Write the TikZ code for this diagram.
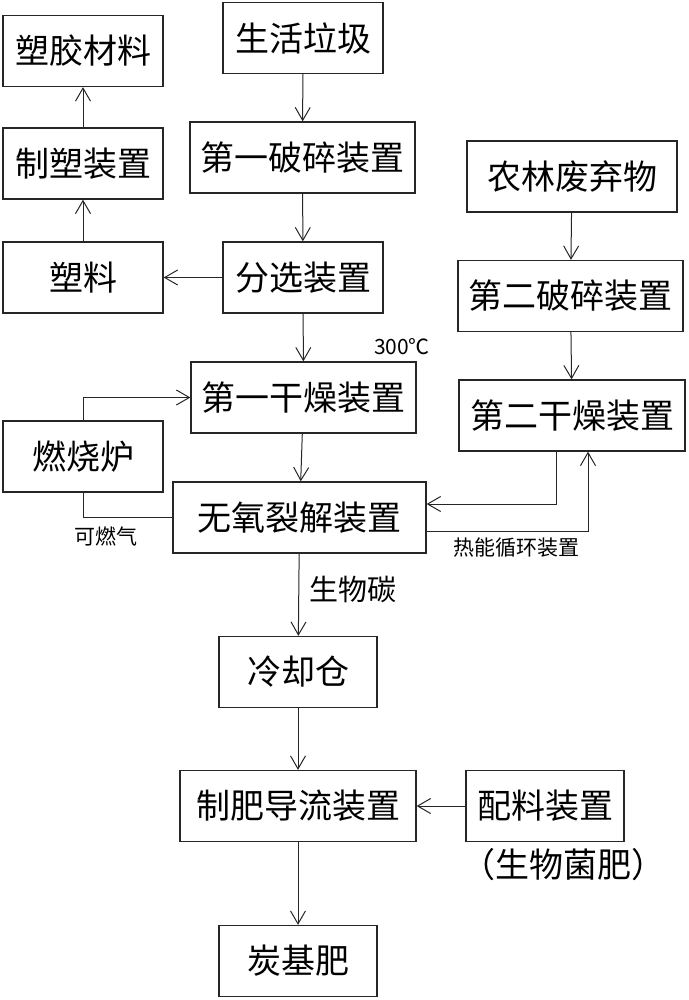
\documentclass[tikz,border=0pt]{standalone}
\usepackage{fontspec}
\usepackage{tikz}
\usetikzlibrary{arrows.meta}
\newfontfamily\cjk{Noto Sans CJK SC}
\tikzset{%
  unit/.style  = {shape=rectangle, draw=black!85, line width=1.3pt,%
                  minimum height=71pt, inner sep=0pt,%
                  font=\cjk\fontsize{34}{36}\selectfont},%
  note/.style  = {inner sep=0pt, font=\cjk\fontsize{21}{23}\selectfont},%
  bignote/.style = {note, font=\cjk\fontsize{29}{31}\selectfont},%
  flow/.style  = {->, line width=1pt, black!85}%
}

\begin{document}
\begin{tikzpicture}[x=1pt,y=-1pt,
>={Straight Barb[length=13pt,width=15pt,line width=1pt]}]
	\useasboundingbox (0,0) rectangle (688,1000);
	\node [unit,minimum width=160pt] (sujiao)   at (83,51)      {塑胶材料};
	\node [unit,minimum width=160pt] (zhisu)    at (83,163.5)   {制塑装置};
	\node [unit,minimum width=160pt] (suliao)   at (83,277.5)   {塑料};
	\node [unit,minimum width=160pt] (ranshao)  at (83,456.5)   {燃烧炉};
	\node [unit,minimum width=160pt] (laji)     at (303,38)     {生活垃圾};
	\node [unit,minimum width=225pt] (posuiA)   at (302.5,157.5){第一破碎装置};
	\node [unit,minimum width=160pt] (fenxuan)  at (303,277.5)  {分选装置};
	\node [unit,minimum width=225pt] (ganzaoA)  at (303.5,397.5){第一干燥装置};
	\node [unit,minimum width=253pt] (liejie)   at (299.5,517.5){无氧裂解装置};
	\node [unit,minimum width=210pt] (nonglin)  at (572,176.5)  {农林废弃物};
	\node [unit,minimum width=225pt] (posuiB)   at (570.5,296)  {第二破碎装置};
	\node [unit,minimum width=226pt] (ganzaoB)  at (572,415.5)  {第二干燥装置};
	\node [unit,minimum width=158pt] (lengque)  at (298,672)    {冷却仓};
	\node [unit,minimum width=236pt] (zhifei)   at (298,806)    {制肥导流装置};
	\node [unit,minimum width=158pt] (peiliao)  at (545,806)    {配料装置};
	\node [unit,minimum width=158pt] (tanji)    at (298,961)    {炭基肥};

	\node [note]    (wendu)  at (402,347)  {300℃};
	\node [note]    (ranqi)  at (106,536)  {可燃气};
	\node [note]    (xunhuan) at (516,548) {热能循环装置};
	\node [bignote] (tan)    at (353,589)  {生物碳};
	\node [unit,draw=none,minimum height=0pt] (junfei) at (563,865) {（生物菌肥）};

	\draw [flow] (laji) -- (posuiA);
	\draw [flow] (posuiA) -- (fenxuan);
	\draw [flow] (fenxuan) -- (suliao);
	\draw [flow] (suliao) -- (zhisu);
	\draw [flow] (zhisu) -- (sujiao);
	\draw [flow] (fenxuan) -- (ganzaoA);
	\draw [flow] (ranshao.north) |- (ganzaoA.west);
	\draw [line width=1pt, black!85] (liejie.west) -| (ranshao.south);
	\draw [flow] (ganzaoA) -- (liejie);
	\draw [flow] (nonglin) -- (posuiB);
	\draw [flow] (posuiB) -- (ganzaoB);
	\draw [flow] ([xshift=-16pt]ganzaoB.south) |- ([yshift=13.5pt]liejie.east);
	\draw [flow] ([yshift=-13.5pt]liejie.east) -| ([xshift=16pt]ganzaoB.south);
	\draw [flow] (liejie) -- (lengque);
	\draw [flow] (lengque) -- (zhifei);
	\draw [flow] (peiliao) -- (zhifei);
	\draw [flow] (zhifei) -- (tanji);
\end{tikzpicture}
\end{document}
